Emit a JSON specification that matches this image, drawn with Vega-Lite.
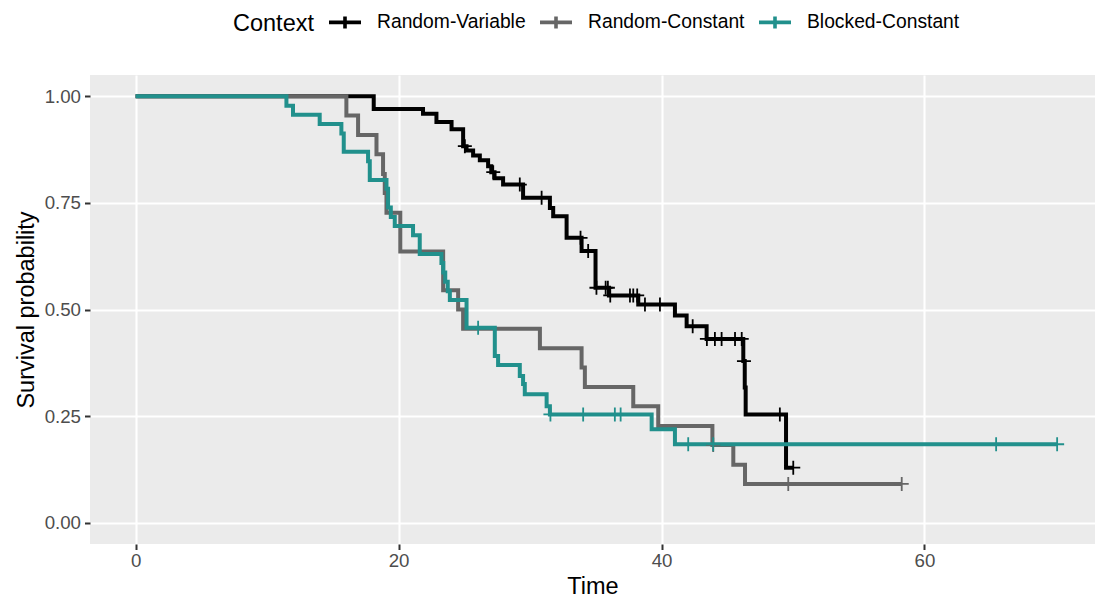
{
  "$schema": "https://vega.github.io/schema/vega-lite/v6.json",
  "width": 1005,
  "height": 469,
  "autosize": {"type": "none"},
  "padding": {"left": 90, "top": 75, "right": 2, "bottom": 64},
  "background": "#FFFFFF",
  "config": {
    "font": "Liberation Sans",
    "view": {"fill": "#EBEBEB", "stroke": null},
    "axis": {
      "domain": false,
      "grid": true,
      "gridColor": "#FFFFFF",
      "labelFont": "Liberation Sans",
      "labelFontSize": 18.7,
      "labelColor": "#4D4D4D",
      "tickColor": "#333333",
      "tickWidth": 2,
      "tickSize": 5.5,
      "titleFont": "Liberation Sans",
      "titleFontSize": 23.5,
      "titleFontWeight": "normal",
      "titleColor": "#000000"
    }
  },
  "datasets": {
    "steps": [
      {"Context": "Random-Variable", "t": 0, "s": 1},
      {"Context": "Random-Variable", "t": 18.11, "s": 0.970},
      {"Context": "Random-Variable", "t": 21.86, "s": 0.959},
      {"Context": "Random-Variable", "t": 22.88, "s": 0.940},
      {"Context": "Random-Variable", "t": 24.03, "s": 0.923},
      {"Context": "Random-Variable", "t": 24.91, "s": 0.883},
      {"Context": "Random-Variable", "t": 25.17, "s": 0.873},
      {"Context": "Random-Variable", "t": 25.67, "s": 0.861},
      {"Context": "Random-Variable", "t": 26.18, "s": 0.850},
      {"Context": "Random-Variable", "t": 26.81, "s": 0.836},
      {"Context": "Random-Variable", "t": 27.05, "s": 0.822},
      {"Context": "Random-Variable", "t": 27.3, "s": 0.808},
      {"Context": "Random-Variable", "t": 27.95, "s": 0.793},
      {"Context": "Random-Variable", "t": 29.47, "s": 0.762},
      {"Context": "Random-Variable", "t": 31.51, "s": 0.738},
      {"Context": "Random-Variable", "t": 31.76, "s": 0.719},
      {"Context": "Random-Variable", "t": 32.78, "s": 0.668},
      {"Context": "Random-Variable", "t": 33.92, "s": 0.637},
      {"Context": "Random-Variable", "t": 34.98, "s": 0.551},
      {"Context": "Random-Variable", "t": 36.0, "s": 0.533},
      {"Context": "Random-Variable", "t": 38.23, "s": 0.512},
      {"Context": "Random-Variable", "t": 41.02, "s": 0.486},
      {"Context": "Random-Variable", "t": 41.91, "s": 0.461},
      {"Context": "Random-Variable", "t": 43.43, "s": 0.431},
      {"Context": "Random-Variable", "t": 46.22, "s": 0.379},
      {"Context": "Random-Variable", "t": 46.33, "s": 0.317},
      {"Context": "Random-Variable", "t": 46.4, "s": 0.254},
      {"Context": "Random-Variable", "t": 49.47, "s": 0.129},
      {"Context": "Random-Variable", "t": 50.02, "s": 0.129},
      {"Context": "Random-Constant", "t": 0, "s": 1},
      {"Context": "Random-Constant", "t": 16.03, "s": 0.955},
      {"Context": "Random-Constant", "t": 16.92, "s": 0.909},
      {"Context": "Random-Constant", "t": 18.32, "s": 0.864},
      {"Context": "Random-Constant", "t": 18.82, "s": 0.818},
      {"Context": "Random-Constant", "t": 18.95, "s": 0.773},
      {"Context": "Random-Constant", "t": 19.08, "s": 0.727},
      {"Context": "Random-Constant", "t": 20.13, "s": 0.636},
      {"Context": "Random-Constant", "t": 23.39, "s": 0.545},
      {"Context": "Random-Constant", "t": 24.53, "s": 0.5},
      {"Context": "Random-Constant", "t": 24.91, "s": 0.455},
      {"Context": "Random-Constant", "t": 30.75, "s": 0.409},
      {"Context": "Random-Constant", "t": 33.92, "s": 0.364},
      {"Context": "Random-Constant", "t": 34.17, "s": 0.318},
      {"Context": "Random-Constant", "t": 37.85, "s": 0.273},
      {"Context": "Random-Constant", "t": 39.75, "s": 0.227},
      {"Context": "Random-Constant", "t": 43.87, "s": 0.182},
      {"Context": "Random-Constant", "t": 45.46, "s": 0.136},
      {"Context": "Random-Constant", "t": 46.35, "s": 0.091},
      {"Context": "Random-Constant", "t": 58.27, "s": 0.091},
      {"Context": "Blocked-Constant", "t": 0, "s": 1},
      {"Context": "Blocked-Constant", "t": 11.47, "s": 0.978},
      {"Context": "Blocked-Constant", "t": 11.97, "s": 0.957},
      {"Context": "Blocked-Constant", "t": 14.0, "s": 0.935},
      {"Context": "Blocked-Constant", "t": 15.65, "s": 0.913},
      {"Context": "Blocked-Constant", "t": 15.83, "s": 0.870},
      {"Context": "Blocked-Constant", "t": 17.68, "s": 0.848},
      {"Context": "Blocked-Constant", "t": 17.81, "s": 0.804},
      {"Context": "Blocked-Constant", "t": 19.08, "s": 0.783},
      {"Context": "Blocked-Constant", "t": 19.2, "s": 0.739},
      {"Context": "Blocked-Constant", "t": 19.41, "s": 0.717},
      {"Context": "Blocked-Constant", "t": 19.71, "s": 0.696},
      {"Context": "Blocked-Constant", "t": 21.1, "s": 0.674},
      {"Context": "Blocked-Constant", "t": 21.61, "s": 0.630},
      {"Context": "Blocked-Constant", "t": 23.26, "s": 0.609},
      {"Context": "Blocked-Constant", "t": 23.4, "s": 0.587},
      {"Context": "Blocked-Constant", "t": 23.55, "s": 0.565},
      {"Context": "Blocked-Constant", "t": 23.74, "s": 0.543},
      {"Context": "Blocked-Constant", "t": 23.9, "s": 0.522},
      {"Context": "Blocked-Constant", "t": 25.17, "s": 0.457},
      {"Context": "Blocked-Constant", "t": 27.32, "s": 0.391},
      {"Context": "Blocked-Constant", "t": 27.57, "s": 0.370},
      {"Context": "Blocked-Constant", "t": 29.22, "s": 0.344},
      {"Context": "Blocked-Constant", "t": 29.47, "s": 0.325},
      {"Context": "Blocked-Constant", "t": 29.6, "s": 0.301},
      {"Context": "Blocked-Constant", "t": 31.26, "s": 0.273},
      {"Context": "Blocked-Constant", "t": 31.51, "s": 0.254},
      {"Context": "Blocked-Constant", "t": 39.25, "s": 0.219},
      {"Context": "Blocked-Constant", "t": 41.02, "s": 0.184},
      {"Context": "Blocked-Constant", "t": 70.09, "s": 0.184}
    ],
    "censor": [
      {"Context": "Random-Variable", "t": 25.04, "s": 0.883},
      {"Context": "Random-Variable", "t": 27.2, "s": 0.822},
      {"Context": "Random-Variable", "t": 29.22, "s": 0.793},
      {"Context": "Random-Variable", "t": 30.88, "s": 0.762},
      {"Context": "Random-Variable", "t": 33.84, "s": 0.668},
      {"Context": "Random-Variable", "t": 34.42, "s": 0.637},
      {"Context": "Random-Variable", "t": 35.05, "s": 0.551},
      {"Context": "Random-Variable", "t": 35.75, "s": 0.551},
      {"Context": "Random-Variable", "t": 35.92, "s": 0.551},
      {"Context": "Random-Variable", "t": 36.1, "s": 0.533},
      {"Context": "Random-Variable", "t": 37.6, "s": 0.533},
      {"Context": "Random-Variable", "t": 37.85, "s": 0.533},
      {"Context": "Random-Variable", "t": 38.15, "s": 0.533},
      {"Context": "Random-Variable", "t": 38.74, "s": 0.512},
      {"Context": "Random-Variable", "t": 39.88, "s": 0.512},
      {"Context": "Random-Variable", "t": 42.37, "s": 0.461},
      {"Context": "Random-Variable", "t": 43.45, "s": 0.431},
      {"Context": "Random-Variable", "t": 44.06, "s": 0.431},
      {"Context": "Random-Variable", "t": 44.57, "s": 0.431},
      {"Context": "Random-Variable", "t": 45.59, "s": 0.431},
      {"Context": "Random-Variable", "t": 46.1, "s": 0.431},
      {"Context": "Random-Variable", "t": 46.27, "s": 0.379},
      {"Context": "Random-Variable", "t": 49.0, "s": 0.254},
      {"Context": "Random-Variable", "t": 50.02, "s": 0.129},
      {"Context": "Random-Constant", "t": 43.93, "s": 0.182},
      {"Context": "Random-Constant", "t": 49.64, "s": 0.091},
      {"Context": "Random-Constant", "t": 58.27, "s": 0.091},
      {"Context": "Blocked-Constant", "t": 26.05, "s": 0.457},
      {"Context": "Blocked-Constant", "t": 31.55, "s": 0.254},
      {"Context": "Blocked-Constant", "t": 34.04, "s": 0.254},
      {"Context": "Blocked-Constant", "t": 36.45, "s": 0.254},
      {"Context": "Blocked-Constant", "t": 36.89, "s": 0.254},
      {"Context": "Blocked-Constant", "t": 42.03, "s": 0.184},
      {"Context": "Blocked-Constant", "t": 43.93, "s": 0.184},
      {"Context": "Blocked-Constant", "t": 65.45, "s": 0.184},
      {"Context": "Blocked-Constant", "t": 70.09, "s": 0.184}
    ]
  },
  "layer": [
    {
      "data": {"name": "steps"},
      "mark": {"type": "line", "interpolate": "step-after", "strokeWidth": 4},
      "encoding": {
        "x": {
          "field": "t", "type": "quantitative",
          "scale": {"domain": [-3.47, 72.97], "nice": false, "zero": false},
          "axis": {"orient": "bottom", "values": [0, 20, 40, 60], "gridWidth": 2.1, "labelPadding": 2, "title": "Time", "titlePadding": 4, "labelFlush": false}
        },
        "y": {
          "field": "s", "type": "quantitative",
          "scale": {"domain": [-0.05, 1.05], "nice": false, "zero": false},
          "axis": {"orient": "left", "values": [0, 0.25, 0.5, 0.75, 1], "format": ".2f", "gridWidth": 2.1, "labelPadding": 4, "title": "Survival probability", "titlePadding": 6}
        },
        "color": {
          "field": "Context", "type": "nominal",
          "scale": {"domain": ["Random-Variable", "Random-Constant", "Blocked-Constant"], "range": ["#000000", "#666666", "#21908C"]},
          "legend": {
            "title": "Context",
            "orient": "none",
            "legendX": 143,
            "legendY": -71,
            "direction": "horizontal",
            "titleOrient": "left",
            "titleFont": "Liberation Sans",
            "titleFontSize": 23.5,
            "titleFontWeight": "normal",
            "titleColor": "#000000",
            "titlePadding": 13,
            "labelFont": "Liberation Sans",
            "labelFontSize": 19.3,
            "labelColor": "#000000",
            "labelOffset": 14,
            "columnPadding": 6,
            "symbolType": "M-1,0H1M0,-0.375V0.375",
            "symbolSize": 1024,
            "symbolStrokeWidth": 3.6,
            "encode": {
              "title": {"update": {"dy": {"value": 4}}},
              "symbols": {
                "update": {
                  "shape": {"value": "M-1,0H1M0,-0.375V0.375"},
                  "size": {"value": 1024},
                  "strokeWidth": {"value": 3.6},
                  "fill": {"value": "transparent"}
                }
              }
            }
          }
        }
      }
    },
    {
      "data": {"name": "censor"},
      "mark": {"type": "point", "shape": "M-1,0H1M0,-1V1", "filled": false, "size": 196, "strokeWidth": 1.8, "opacity": 1},
      "encoding": {
        "x": {
          "field": "t", "type": "quantitative",
          "axis": {"orient": "bottom", "values": [10, 30, 50, 70], "gridWidth": 1.1, "labels": false, "ticks": false, "title": null}
        },
        "y": {
          "field": "s", "type": "quantitative",
          "axis": {"orient": "left", "values": [0.125, 0.375, 0.625, 0.875], "gridWidth": 1.1, "labels": false, "ticks": false, "title": null}
        },
        "color": {"field": "Context", "type": "nominal"}
      }
    }
  ],
  "resolve": {"axis": {"x": "independent", "y": "independent"}}
}
